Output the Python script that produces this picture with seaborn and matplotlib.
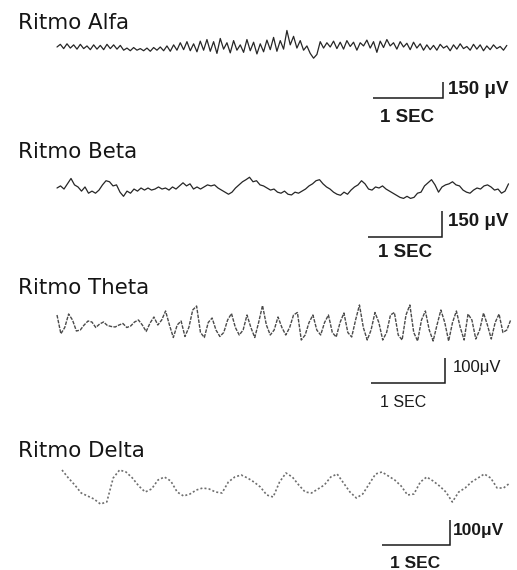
import matplotlib
matplotlib.use("Agg")
import numpy as np
import matplotlib.pyplot as plt
import seaborn as sns

sns.set_theme(style="white")
plt.rcParams["font.family"] = ["DejaVu Sans"]

# ---- EEG traces (microvolts, uniformly sampled) ----
alfa_uv = [
    0, 25, -15, 30, -10, 20, -20, 25, -15, 10, -25, 20, -20, 15, -25, 25, -15, 20, -20, 15,
    -30, -10, -35, -5, -30, -15, -35, -10, -40, -5, -30, 0, -35, 10,
    -40, 20, -30, 40, -25, 50, -35, 30, -45, 55,
    -30, 70, -40, 50, -60, 80, -20, 40, -55, 60, -30, 20, -50, 70, -35, 45, -65, 30, -45, 65,
    -25, 90, -40, 60, -20,
    155, 20, 100, -10, 60, -30, 10, -60,
    -105, -70, 50,
    -10, 40, 0, 55, -15, 45, -20, 60, 5, 45, -30, 40, 10, 65, -10, 50, -50, 55, -5, 70,
    10, 40, -20, 50, 0, 35, -25, 45, -10, 30, -30,
    20, -25, 15, -30, 25, -10, 10, -35, 20, -20, 30, -15, 5, -30, 25, -20, 20, -35, 10, -25,
    20, -15, 5, -30, 15,
]
alfa_dt = 0.0476

beta_uv = [
    0, 12, -6, 24, 55, 18, 6, -18, 6, -30, -18, -30, -12, 18, 42, 36, 12, 18, -24, -48,
    -18, -30, -6, -18, 0, -12, 0, -12, -6, 6, -6, 0, -12, 6, -6, 12, 30, 12, 24, -6,
    6, -6, 6, 18, 12, 18, 0, -12, -24, -36, -24, 0, 18, 36, 48, 62, 36, 42, 18, 12,
    0, -12, -6, -24, -30, -18, -36, -40, -24, -30, -18, -6, 12, 24, 42, 48, 24, 6, -6, -24,
    -36, -42, -24, -36, -12, 6, 18, 42, 24, -6, -12, 6, 0, 12, -6, -18, -30, -42, -54, -60,
    -48, -60, -54, -30, -24, 12, 30, 48, 18, -24, 6, 18, 24, 36, 18, 12, -12, -24, -30, -12,
    0, -6, 12, 18, 6, -12, -6, -30, -18, 24,
]
beta_dt = 0.0473

theta_uv = [
    40, -35, -10, 44, 20, -24, -20, 0, 16, 12, -10, 4, 12, -2, -6, -8, 0, 6, -10, -4,
    12, 20, 0, -26, 8, 32, 0, 20, 56, 0, -50, 0, 16, -46, -10, 60, 76, -30, -50, 10,
    28, -20, -46, -30, 20, 46, -10, -40, -20, 40, -10, -50, 10, 78, 0, -40, -20, 32, -10, -40,
    -10, 40, 50, -60, -40, 10, 40, -20, -40, 10, 40, -30, -48, 10, 48, -30, -48, 20, 80, -10,
    -60, -20, 50, 10, -60, -30, 40, 50, -40, -60, 40, 80, -30, -64, 20, 56, -20, -64, 0, 60,
    10, -64, 10, 56, -10, -60, 44, 20, -56, -20, 48, 0, -56, 10, 44, -30, -20, 20,
]
theta_dt = 0.0524

delta_uv = [
    68, 36, 8, -24, -36, -48, -68, -60, 36, 68, 60, 36, 4, -20, -8, 28, 40, 24, -20, -36,
    -28, -12, -4, -8, -20, -24, 20, 40, 48, 36, 20, 0, -32, -40, 20, 56, 40, 8, -20, -24,
    -8, 8, 40, 52, 16, -20, -44, -28, 12, 52, 60, 44, 28, 4, -32, -28, 20, 40, 24, 4,
    -20, -60, -20, -4, 20, 36, 52, 36, -4, -4, 16,
]
delta_dt = 0.0941

titles = ["Ritmo Alfa", "Ritmo Beta", "Ritmo Theta", "Ritmo Delta"]
amp_labels = ["150 μV", "150 μV", "100μV", "100μV"]
amp_bars = [150, 150, 100, 100]
time_label = "1 SEC"
time_bar = 1.0

traces = [(alfa_uv, alfa_dt), (beta_uv, beta_dt), (theta_uv, theta_dt), (delta_uv, delta_dt)]

# ---- layout of each strip (figure pixels) ----
W, H = 517, 570
panels = [
    dict(top=0, bottom=140, x0=57, yb=47, pps=70, bar=(443, 98), title_y=29,
         amp_xy=(448, 90), sec_xy=(380, 117), lab_w="bold", lab_fs=13.5, sec_fs=13.5,
         color="#262626", lw=0.9, ls="-"),
    dict(top=140, bottom=270, x0=57, yb=188, pps=74, bar=(442, 237), title_y=158,
         amp_xy=(448, 222), sec_xy=(378, 253), lab_w="bold", lab_fs=13.5, sec_fs=13.5,
         color="#262626", lw=0.9, ls="-"),
    dict(top=270, bottom=420, x0=57, yb=325, pps=74, bar=(445, 383), title_y=294,
         amp_xy=(453, 368), sec_xy=(380, 403), lab_w="normal", lab_fs=12, sec_fs=11.5,
         color="#4a4a4a", lw=1.0, ls=(0, (2.6, 0.9))),
    dict(top=420, bottom=570, x0=62, yb=487, pps=68, bar=(450, 545), title_y=457,
         amp_xy=(453, 530), sec_xy=(390, 563), lab_w="bold", lab_fs=12.5, sec_fs=12.5,
         color="#6e6e6e", lw=1.2, ls=(0, (1.2, 1.3))),
]
bar_px = [16, 26, 25, 25]   # pixel height of the amplitude bar in each strip

fig = plt.figure(figsize=(W / 100, H / 100), dpi=100)
fig.patch.set_facecolor("white")

for i, p in enumerate(panels):
    k = amp_bars[i] / bar_px[i]          # microvolts per pixel
    ax = fig.add_axes([0, 1 - p["bottom"] / H, 1, (p["bottom"] - p["top"]) / H])
    ax.set_axis_off()
    ax.set_xlim((0 - p["x0"]) / p["pps"], (W - p["x0"]) / p["pps"])
    ax.set_ylim((p["yb"] - p["bottom"]) * k, (p["yb"] - p["top"]) * k)

    def to_data(x, y, p=p, k=k):
        return (x - p["x0"]) / p["pps"], (p["yb"] - y) * k

    vals, dt = traces[i]
    t = np.arange(len(vals)) * dt
    sns.lineplot(x=t, y=vals, ax=ax, color=p["color"], linewidth=p["lw"],
                 linestyle=p["ls"], estimator=None, sort=False)

    # title
    tx, ty = to_data(18, p["title_y"])
    ax.text(tx, ty, titles[i], fontsize=15.4, color="#151515", ha="left", va="baseline",
            family=["DejaVu Sans"])

    # calibration bars: 1 s horizontally, amplitude vertically
    bx, by = to_data(*p["bar"])
    ax.plot([bx - time_bar, bx, bx], [by, by, by + amp_bars[i]], color="#1a1a1a",
            lw=1.1, solid_joinstyle="miter", solid_capstyle="butt")

    ax_, ay_ = to_data(*p["amp_xy"])
    ax.text(ax_, ay_, amp_labels[i], fontsize=p["lab_fs"], fontweight=p["lab_w"],
            color="#1a1a1a", ha="left", va="center", family=["Liberation Sans", "DejaVu Sans"])
    sx, sy = to_data(*p["sec_xy"])
    ax.text(sx, sy, time_label, fontsize=p["sec_fs"], fontweight=p["lab_w"],
            color="#1a1a1a", ha="left", va="center", family=["Liberation Sans", "DejaVu Sans"])

fig.savefig("out.png", dpi=100, facecolor="white")
